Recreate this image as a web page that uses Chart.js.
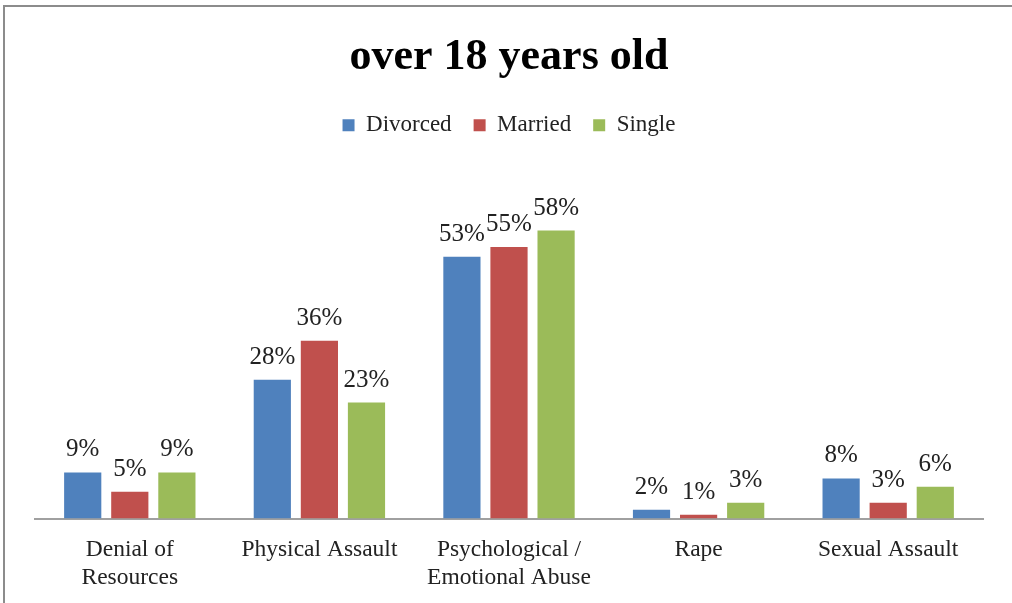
<!DOCTYPE html>
<html>
<head>
<meta charset="utf-8">
<script src="https://cdn.jsdelivr.net/npm/chart.js@4"></script>
<style>
  html, body { margin: 0; padding: 0; background: #fff; }
  #wrap { width: 1012px; height: 603px; }
</style>
</head>
<body>
<div id="wrap"><canvas id="chart" width="1012" height="603"></canvas></div>
<script>
const categories = [['Denial of', 'Resources'], 'Physical Assault', ['Psychological /', 'Emotional Abuse'], 'Rape', 'Sexual Assault'];
const divorced = [9.3, 28.0, 52.8, 1.8, 8.1];
const married = [5.4, 35.9, 54.8, 0.8, 3.2];
const single = [9.3, 23.4, 58.1, 3.2, 6.4];

const FONT = "'Liberation Serif', 'DejaVu Serif', serif";

// frame lines on top and left like the original screenshot
const framePlugin = {
    id: 'frame',
    beforeDraw(chart) {
        const { ctx, width, height } = chart;
        ctx.save();
        ctx.strokeStyle = '#8c8c8c';
        ctx.lineWidth = 2;
        ctx.beginPath();
        ctx.moveTo(4, height);
        ctx.lineTo(4, 6);
        ctx.lineTo(width, 6);
        ctx.stroke();
        ctx.restore();
    }
};

// value labels above each bar
const valueLabels = {
    id: 'valueLabels',
    afterDatasetsDraw(chart) {
        const { ctx } = chart;
        ctx.save();
        ctx.font = '25px ' + FONT;
        ctx.fillStyle = '#222';
        ctx.textAlign = 'center';
        ctx.textBaseline = 'alphabetic';
        chart.data.datasets.forEach((ds, i) => {
            chart.getDatasetMeta(i).data.forEach((bar, j) => {
                ctx.fillText(Math.round(ds.data[j]) + '%', bar.x, bar.y - 16);
            });
        });
        ctx.restore();
    }
};

new Chart(document.getElementById('chart').getContext('2d'), {
    type: 'bar',
    data: {
        labels: categories,
        datasets: [
            { label: 'Divorced', data: divorced, backgroundColor: '#4F81BD' },
            { label: 'Married', data: married, backgroundColor: '#C0504D' },
            { label: 'Single', data: single, backgroundColor: '#9BBB59' }
        ]
    },
    options: {
        responsive: false,
        animation: false,
        devicePixelRatio: 1,
        categoryPercentage: 0.745,
        barPercentage: 0.79,
        layout: { padding: { left: 35, right: 29, top: 12, bottom: 2 } },
        plugins: {
            title: {
                display: true,
                text: 'over 18 years old',
                color: '#000',
                font: { family: FONT, size: 44, weight: 'bold' },
                padding: { top: 19, bottom: 8 }
            },
            legend: {
                position: 'top',
                labels: {
                    boxWidth: 12,
                    boxHeight: 12,
                    padding: 22,
                    color: '#222',
                    font: { family: FONT, size: 23 }
                }
            },
            tooltip: { enabled: false }
        },
        scales: {
            x: {
                grid: { display: false },
                border: { color: '#a0a0a0', width: 2 },
                ticks: {
                    color: '#222',
                    padding: 9,
                    font: { family: FONT, size: 23.5, lineHeight: 1.2 }
                }
            },
            y: {
                display: false,
                min: 0,
                max: 75
            }
        }
    },
    plugins: [framePlugin, valueLabels]
});
</script>
</body>
</html>
